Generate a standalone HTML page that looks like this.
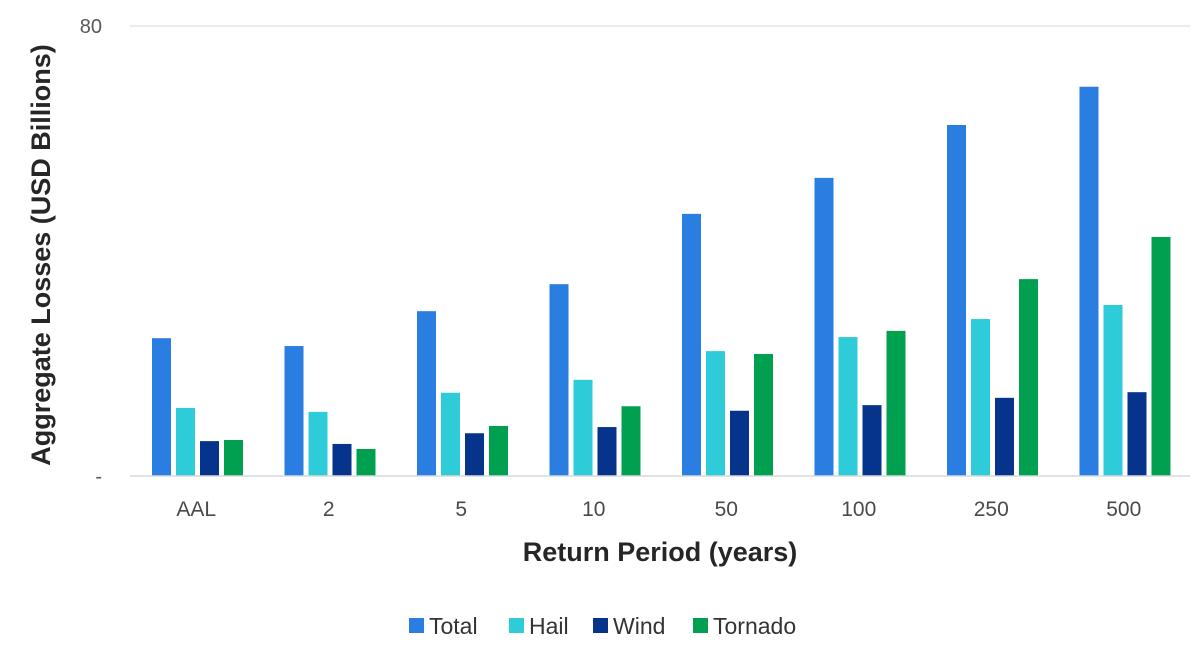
<!DOCTYPE html>
<html><head><meta charset="utf-8"><style>
html,body{margin:0;padding:0;background:#fff;}
svg{display:block;font-family:"Liberation Sans",sans-serif;}
</style></head><body>
<svg id="chart" width="1200" height="658"></svg>
<script>
const categories=["AAL","2","5","10","50","100","250","500"];
const totalVals=[24.5,23.1,29.3,34.1,46.6,53.0,62.4,69.2];
const hailVals=[12.1,11.4,14.8,17.1,22.2,24.7,27.9,30.4];
const windVals=[6.2,5.7,7.6,8.7,11.6,12.6,13.9,14.9];
const tornadoVals=[6.4,4.8,8.9,12.4,21.7,25.8,35.0,42.5];
const seriesNames=["Total","Hail","Wind","Tornado"];
const yTickVals=[0,80];
const yTickLabels=["-","80"];

const svg=document.getElementById('chart');
const NS='http://www.w3.org/2000/svg';
const colors=["#2a7de1","#2ecbd9","#06338c","#00a050"];
const series=[totalVals,hailVals,windVals,tornadoVals];
const x0=130,x1=1190,y0=476,yTop=26,yMax=80;
const groupW=(x1-x0)/categories.length;
const y=v=>y0-(v/yMax)*(y0-yTop);
function mk(tag,attrs,parent){const e=document.createElementNS(NS,tag);for(const k in attrs)e.setAttribute(k,attrs[k]);(parent||svg).appendChild(e);return e;}

yTickVals.forEach((v,i)=>{
  if(v>0){const g=mk('line',{x1:x0,x2:x1,y1:y(v),y2:y(v),stroke:'#d9d9d9','stroke-width':1});
  
  }
  const t=mk('text',{x:102,y:y(v)+7,'text-anchor':'end','font-size':20,fill:'#595959'});
  t.textContent=yTickLabels[i];
  
  
});

categories.forEach((c,i)=>{
  const gx=x0+i*groupW;
  series.forEach((s,j)=>{
    const b=mk('rect',{x:gx+22+j*24,y:y(s[i]),width:19,height:y0-y(s[i]),fill:colors[j]});
    
    
  });
  const t=mk('text',{x:gx+groupW/2,y:516,'text-anchor':'middle','font-size':21,fill:'#4a4a4a'});
  t.textContent=c;
  
  
});
const ax=mk('line',{x1:x0,x2:x1,y1:y0,y2:y0,stroke:'#d9d9d9','stroke-width':1.5});



const xt=mk('text',{x:660,y:561,'text-anchor':'middle','font-size':27,'font-weight':'bold',fill:'#262626'});
xt.textContent='Return Period (years)';


const yt=mk('text',{x:0,y:0,'text-anchor':'middle','font-size':27,'font-weight':'bold',fill:'#262626',transform:'translate(50,255) rotate(-90)'});
yt.textContent='Aggregate Losses (USD Billions)';



const legX=[409,509,593,693];
seriesNames.forEach((n,j)=>{
  const r=mk('rect',{x:legX[j],y:618,width:15,height:15,fill:colors[j]});
  
  
  const t=mk('text',{x:legX[j]+20,y:634,'font-size':23,fill:'#333'});
  t.textContent=n;
  
  
});
</script>
</body></html>
